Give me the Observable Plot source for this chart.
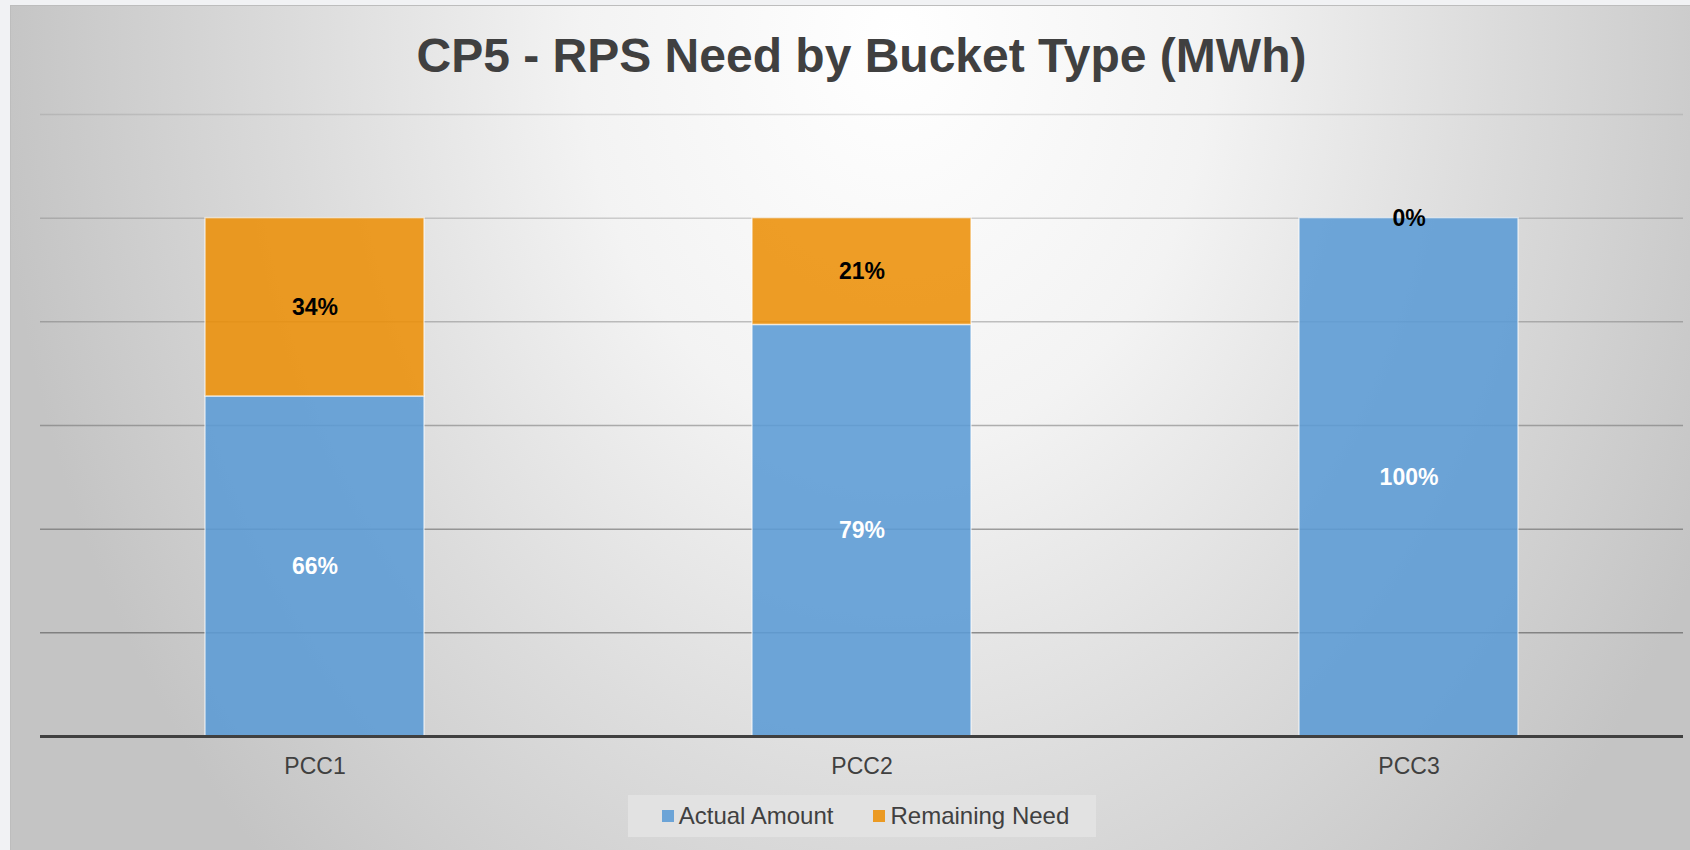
<!DOCTYPE html>
<html>
<head>
<meta charset="utf-8">
<script src="https://cdn.jsdelivr.net/npm/d3@7"></script>
<script src="https://cdn.jsdelivr.net/npm/@observablehq/plot@0.6"></script>
<style>
  html, body { margin: 0; padding: 0; background: #f1f2f4; width: 1690px; height: 850px; overflow: hidden; }
  #chart {
    position: absolute; left: 10px; top: 5px; width: 1680px; height: 845px;
    border-left: 1px solid #bdbdbd; border-top: 1px solid #bdbdbd;
    background: radial-gradient(ellipse 900px 1150px at 885px 36px, #ffffff 0%, #f3f3f3 35%, #dcdcdc 66%, #c4c4c4 100%);
    font-family: "Liberation Sans", Arial, sans-serif;
    overflow: hidden;
  }
  #title {
    position: absolute; left: 29px; top: 0px; width: 1643px; height: 100px; line-height: 100px;
    text-align: center; font-weight: bold; font-size: 48px; color: #404040;
  }
  #plot { position: absolute; left: 0px; top: 89px; }
  #legend {
    position: absolute; left: 617px; top: 789px; width: 468px; height: 42px; box-sizing: border-box; padding-left: 7px;
    background: #e2e2e2; display: flex; align-items: center; justify-content: center;
    font-size: 24px; color: #404040;
  }
  .item { display: flex; align-items: center; }
  .sw { width: 12px; height: 12px; margin-right: 5px; }
</style>
</head>
<body>
<div id="chart">
  <div id="title"></div>
  <div id="plot"></div>
  <div id="legend"></div>
</div>
<script>
const titleText = "CP5 - RPS Need by Bucket Type (MWh)";
const categories = ["PCC1", "PCC2", "PCC3"];
const seriesNames = ["Actual Amount", "Remaining Need"];
const actualAmount = [65.6, 79.4, 100];
const remainingNeed = [34.4, 20.6, 0];
const yTicks = [0, 20, 40, 60, 80, 100, 120];
const seriesColors = ["#5b9bd5", "#ec8f08"];

const seriesValues = [actualAmount, remainingNeed];
const table = [];
seriesNames.forEach((s, si) => {
  categories.forEach((c, ci) => {
    table.push({cat: c, series: s, value: seriesValues[si][ci]});
  });
});

document.getElementById("title").textContent = titleText;
const pct = v => Math.round(v) + "%";

const chart = Plot.plot({
  width: 1679,
  height: 695,
  marginLeft: 29,
  marginRight: 7,
  marginTop: 19,
  marginBottom: 54,
  style: {background: "transparent", overflow: "visible", fontFamily: "'Liberation Sans', Arial, sans-serif"},
  x: {domain: categories, paddingInner: 0.6, paddingOuter: 0.3, label: null},
  y: {domain: [0, 120], label: null, axis: null},
  color: {domain: seriesNames, range: seriesColors},
  opacity: {type: "identity"},
  marks: [
    Plot.ruleY(yTicks.filter(d => d > 0), {y: d => d, stroke: "#5a5a5a", strokeWidth: 1.5, strokeOpacity: d => 0.74 - 0.0048 * d}),
    Plot.barY(table, {x: "cat", y: "value", fill: "series", fillOpacity: 0.88, stroke: "white", strokeOpacity: 0.6, strokeWidth: 1.5}),
    Plot.text(table, Plot.stackY({
      x: "cat", y: "value", z: "series",
      text: d => d.series === seriesNames[0] ? pct(d.value) : null,
      fill: "white", fontWeight: "bold", fontSize: 23
    })),
    Plot.text(table, Plot.stackY({
      x: "cat", y: "value", z: "series",
      text: d => d.series === seriesNames[1] ? pct(d.value) : null,
      fill: "black", fontWeight: "bold", fontSize: 23
    })),
    Plot.ruleY([0], {stroke: "#404040", strokeWidth: 3}),
    Plot.axisX({tickSize: 0, tickPadding: 21, fontSize: 23, color: "#404040", label: null})
  ]
});
document.getElementById("plot").appendChild(chart);

const legend = document.getElementById("legend");
seriesNames.forEach((s, i) => {
  const item = document.createElement("div");
  item.className = "item";
  if (i > 0) item.style.marginLeft = "40px";
  const sw = document.createElement("div");
  sw.className = "sw";
  sw.style.background = seriesColors[i];
  sw.style.opacity = 0.88;
  const t = document.createElement("span");
  t.textContent = s;
  item.appendChild(sw);
  item.appendChild(t);
  legend.appendChild(item);
});
</script>
</body>
</html>
